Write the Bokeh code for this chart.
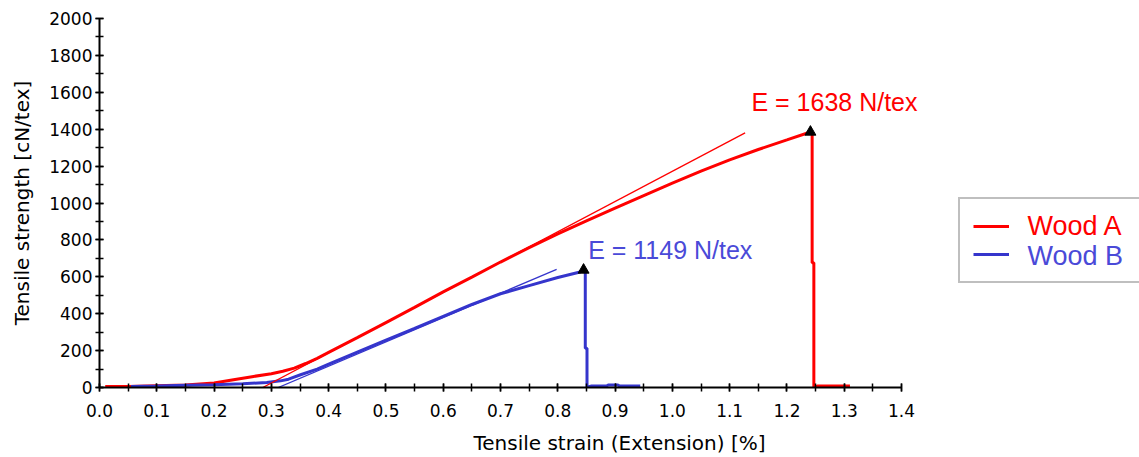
from bokeh.plotting import figure
from bokeh.models import (Range1d, SingleIntervalTicker, Legend, LegendItem, Label,
                          PrintfTickFormatter)
from bokeh.core.properties import value
from bokeh.embed import file_html
from bokeh.resources import INLINE

# ---------------- data ----------------
series = ["Wood A", "Wood B"]
moduli = ["E = 1638 N/tex", "E = 1149 N/tex"]

a_strain = [0.01, 0.05, 0.10, 0.15, 0.20, 0.234, 0.269, 0.30, 0.32, 0.34, 0.36, 0.38,
            0.40, 0.45, 0.50, 0.55, 0.60, 0.65, 0.70, 0.75,
            0.80, 0.85, 0.90, 0.95, 1.00, 1.05, 1.10, 1.15, 1.20, 1.241,
            1.244, 1.244, 1.247, 1.247, 1.254, 1.31]
a_strength = [5, 5, 10, 14, 24, 42, 60, 75, 88, 105, 130, 158,
              190, 270, 352, 434, 518, 598, 680, 758,
              833, 903, 972, 1040, 1108, 1173, 1234, 1290, 1342, 1385,
              1385, 676, 676, 2, 8, 8]

b_strain = [0.055, 0.10, 0.15, 0.20, 0.25, 0.292, 0.316, 0.33, 0.351, 0.38, 0.40,
            0.45, 0.50, 0.55, 0.60, 0.65, 0.70, 0.75, 0.80, 0.839,
            0.845, 0.848, 0.848, 0.851, 0.851, 0.859, 0.885, 0.888, 0.905, 0.908,
            0.944]
b_strength = [5, 8, 12, 15, 20, 27, 36, 45, 69, 100, 127,
              192, 257, 320, 385, 450, 508, 552, 596, 626,
              637, 637, 213, 213, 2, 8, 8, 13, 13, 8,
              8]

a_tan_strain = [0.285, 1.127]
a_tan_strength = [0, 1380]
b_tan_strain = [0.312, 0.798]
b_tan_strength = [0, 640]

peak_strain = [1.241, 0.845]
peak_strength = [1385, 637]

x_tick_step = 0.1
y_tick_step = 200
x_max_tick = 1.4
y_max = 2000

# ---------------- styling ----------------
RED = "#ff0000"
BLUE = "#3535cc"
BLUE_TXT = "#4a4ad8"
AXIS_FONT = "DejaVu Sans"
ANN_FONT = "Liberation Sans"

frame_w_axis = 802           # pixels between 0.0 and 1.4
fig_w, fig_h = 1139, 457
left_b, top_b, bot_b = 99, 18, 69
frame_w = fig_w - left_b
x_end = x_max_tick * frame_w / frame_w_axis

p = figure(width=fig_w, height=fig_h, output_backend="svg", toolbar_location=None,
           x_range=Range1d(0, x_end), y_range=Range1d(0, y_max),
           min_border_left=left_b, min_border_right=0,
           min_border_top=top_b, min_border_bottom=bot_b)
p.outline_line_color = None
p.xgrid.visible = False
p.ygrid.visible = False
p.background_fill_color = "white"
p.border_fill_color = "white"

# curves
r_a = p.line(a_strain, a_strength, line_color=RED, line_width=3)
r_b = p.line(b_strain, b_strength, line_color=BLUE, line_width=3)
p.line(a_tan_strain, a_tan_strength, line_color=RED, line_width=1.3)
p.line(b_tan_strain, b_tan_strength, line_color=BLUE, line_width=1.3)
p.scatter(peak_strain, peak_strength, marker="triangle", size=11,
          fill_color="black", line_color="black")

# axes
xa = p.xaxis[0]
ya = p.yaxis[0]
xa.ticker = SingleIntervalTicker(interval=x_tick_step, num_minor_ticks=2)
ya.ticker = SingleIntervalTicker(interval=y_tick_step, num_minor_ticks=2)
xa.formatter = PrintfTickFormatter(format="%.1f")
xa.bounds = (0, x_max_tick + 1e-6)
for ax in (xa, ya):
    ax.axis_line_color = "black"
    ax.axis_line_width = 2
    ax.major_tick_line_color = "black"
    ax.minor_tick_line_color = "black"
    ax.major_tick_line_width = 1.5
    ax.minor_tick_line_width = 1.5
    ax.major_tick_in = 4
    ax.major_tick_out = 4
    ax.minor_tick_in = 4
    ax.minor_tick_out = 4
    ax.major_label_text_font = AXIS_FONT
    ax.major_label_text_font_size = "17px"
    ax.major_label_text_color = "black"
    ax.axis_label_text_font = AXIS_FONT
    ax.axis_label_text_font_size = "20px"
    ax.axis_label_text_font_style = "normal"
    ax.axis_label_text_color = "black"
xa.axis_label = "Tensile strain (Extension) [%]"
ya.axis_label = "Tensile strength [cN/tex]"
xa.major_label_standoff = 12
ya.major_label_standoff = 3
xa.axis_label_standoff = 11
ya.axis_label_standoff = 12

# modulus annotations
p.add_layout(Label(x=1.138, y=1547, text=moduli[0], text_font=ANN_FONT,
                   text_font_size="25px", text_color=RED, text_baseline="alphabetic"))
p.add_layout(Label(x=0.853, y=745, text=moduli[1], text_font=ANN_FONT,
                   text_font_size="25px", text_color=BLUE_TXT, text_baseline="alphabetic"))

# legend box with line glyphs
legend = Legend(items=[LegendItem(label=value(""), renderers=[r_a]),
                       LegendItem(label=value(""), renderers=[r_b])],
                location=(859, 104), orientation="vertical",
                border_line_color="#808080", border_line_width=2,
                background_fill_alpha=0,
                padding=13, margin=0, spacing=0,
                glyph_width=36, glyph_height=28, label_height=28,
                label_width=300, label_standoff=19,
                label_text_font_size="10px")
p.add_layout(legend, "center")

# legend texts (coloured per series)
p.add_layout(Label(x=1.620, y=878, text=series[0], text_font=ANN_FONT,
                   text_font_size="27px", text_color=RED, text_baseline="alphabetic"))
p.add_layout(Label(x=1.620, y=715, text=series[1], text_font=ANN_FONT,
                   text_font_size="27px", text_color=BLUE_TXT, text_baseline="alphabetic"))

open("out.html", "w").write(file_html(p, INLINE))
